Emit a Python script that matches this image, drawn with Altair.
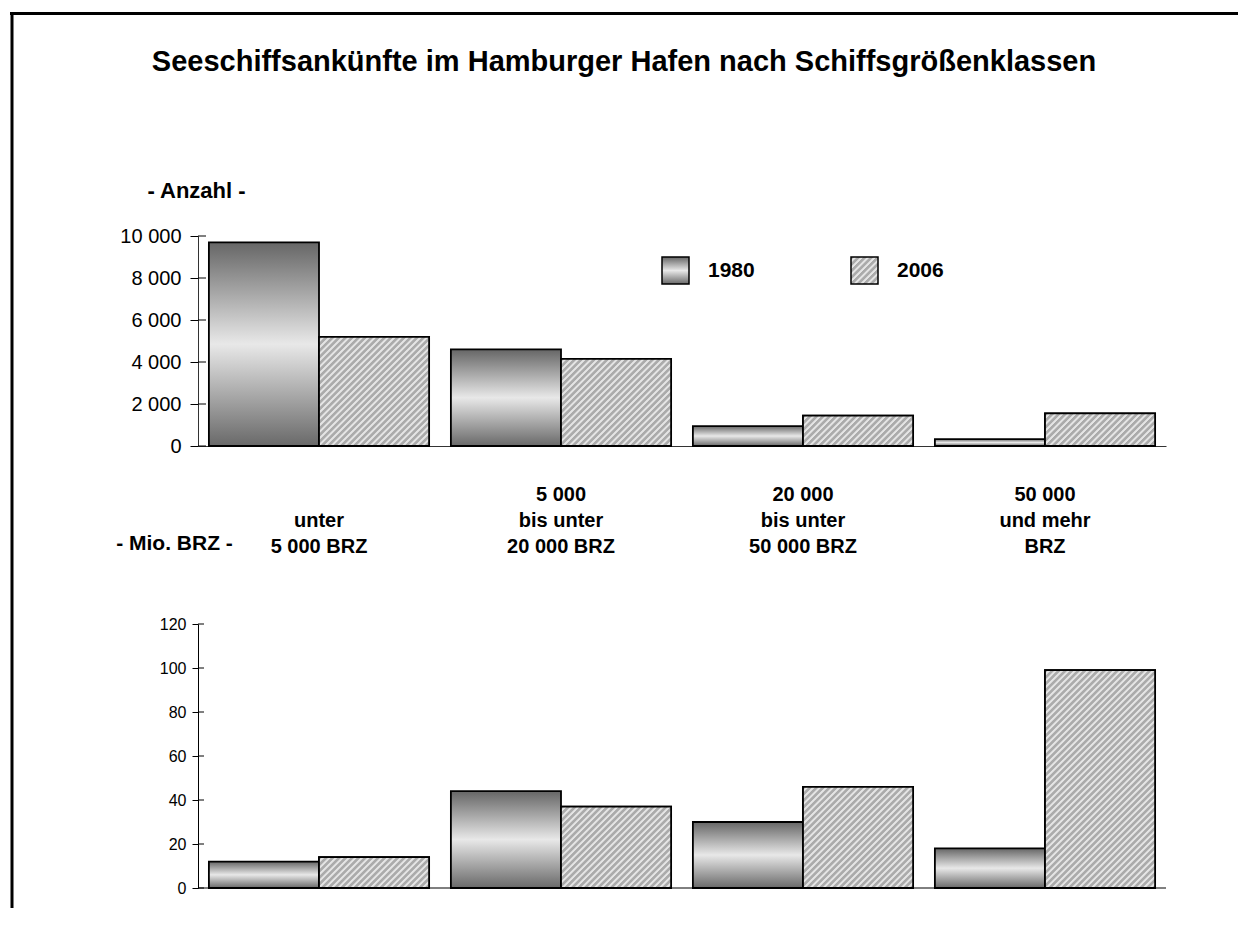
import altair as alt
import pandas as pd

# ---- data ----
categories = [
    "unter\n5 000 BRZ",
    "5 000\nbis unter\n20 000 BRZ",
    "20 000\nbis unter\n50 000 BRZ",
    "50 000\nund mehr\nBRZ",
]
years = ["1980", "2006"]
anzahl_1980 = [9700, 4600, 950, 330]
anzahl_2006 = [5200, 4150, 1450, 1550]
brz_1980 = [12, 44, 30, 18]
brz_2006 = [14, 37, 46, 99]
anzahl_ticks = [0, 2000, 4000, 6000, 8000, 10000]
brz_ticks = [0, 20, 40, 60, 80, 100, 120]
title_text = "Seeschiffsankünfte im Hamburger Hafen nach Schiffsgrößenklassen"

FONT = "Liberation Sans"
W = 968
H_TOP = 210
H_BOT = 264
PAD = 0.09
BAR_W = W / 4 * (1 - PAD) / 2       # pixel width of one bar (for the hatch texture)
HATCH_P = 6.5                        # hatch period in px
DARK, LIGHT = "#ababab", "#e4e4e4"


def long_table(v80, v06):
    rows = []
    for c, a, b in zip(categories, v80, v06):
        rows.append({"kat": c, "jahr": "1980", "wert": a})
        rows.append({"kat": c, "jahr": "2006", "wert": b})
    return pd.DataFrame(rows)


df_top = long_table(anzahl_1980, anzahl_2006)
df_bot = long_table(brz_1980, brz_2006)


def hatch_stops(w, h):
    """Stops of a diagonal ('/') stripe texture for a box of w x h pixels."""
    total = w + h
    stops = []
    k = 0
    while k * HATCH_P <= total:
        for f, col in ((0.0, DARK), (0.4, DARK), (0.58, LIGHT), (0.85, LIGHT)):
            off = (k + f) * HATCH_P / total
            if off <= 1:
                stops.append((round(off, 5), col))
        k += 1
    s = total / (w * w + h * h)
    return stops, s * w, s * h


def hatch_gradient(w, h):
    stops, x2, y2 = hatch_stops(w, h)
    return alt.LinearGradient(
        gradient="linear", x1=0, y1=0, x2=x2, y2=y2,
        stops=[alt.GradientStop(color=c, offset=o) for o, c in stops],
    )


def hatch_expr(w, h):
    stops, x2, y2 = hatch_stops(w, h)
    st = ",".join("{offset:%s,color:'%s'}" % (o, c) for o, c in stops)
    return "{gradient:'linear',x1:0,y1:0,x2:%s,y2:%s,stops:[%s]}" % (x2, y2, st)


grad80_expr = (
    "{gradient:'linear',x1:0,y1:0,x2:0,y2:1,stops:[{offset:0,color:'#666666'},"
    "{offset:0.5,color:'#e8e8e8'},{offset:1,color:'#696969'}]}"
)
fill_scale = alt.Scale(
    domain=years, range=[{"expr": grad80_expr}, {"expr": hatch_expr(27, 27)}]
)
xoff = alt.XOffset("jahr:N", sort=years, scale=alt.Scale(paddingInner=0, paddingOuter=0))
xscale = alt.Scale(paddingInner=PAD, paddingOuter=PAD / 2)


def panel(df, domain, ticks, height, yaxis, xaxis, legend, tick_len):
    base = alt.Chart(df).encode(
        x=alt.X("kat:N", sort=categories, scale=xscale, axis=xaxis),
        xOffset=xoff,
        y=alt.Y("wert:Q", scale=alt.Scale(domain=domain), axis=yaxis),
    )
    layers = [
        base.mark_bar(stroke="black", strokeWidth=1.8).encode(
            fill=alt.Fill("jahr:N", scale=fill_scale, legend=legend)
        )
    ]
    # hatch texture of each 2006 bar, sized to that bar
    vals = df[df.jahr == "2006"].set_index("kat")["wert"]
    for c in categories:
        h = max(vals[c] / domain[1] * height, 1.0)
        layers.append(
            base.transform_filter((alt.datum.kat == c) & (alt.datum.jahr == "2006"))
            .mark_bar(fill=hatch_gradient(BAR_W, h), stroke="black", strokeWidth=1.8)
        )
    tick_df = pd.DataFrame({"t": ticks})
    layers.append(
        alt.Chart(tick_df).mark_rule(color="black", strokeWidth=1).encode(
            y=alt.Y("t:Q"), x=alt.value(0), x2=alt.value(tick_len)
        )
    )
    return layers


top_yaxis = alt.Axis(
    values=anzahl_ticks,
    labelExpr="replace(format(datum.value, ','), ',', ' ')",
    labelFontSize=20, labelFont=FONT, labelColor="black", labelPadding=9,
    tickSize=8, tickColor="black", domainColor="#333333", grid=False,
    title="- Anzahl -", titleAngle=0, titleX=-2, titleY=-46,
    titleAlign="center", titleBaseline="middle", titleFontSize=22,
    titleFont=FONT, titleFontWeight="bold", titleColor="black",
)
top_xaxis = alt.Axis(labels=False, ticks=False, domain=True, domainColor="#333333", title=None)
legend = alt.Legend(
    title=None, orient="none", legendX=463, legendY=20, direction="horizontal",
    symbolType="square", symbolSize=729, symbolStrokeColor="black",
    symbolStrokeWidth=1.5, symbolOpacity=1, labelFontSize=21, labelFont=FONT,
    labelFontWeight="bold", labelColor="black", labelOffset=18, columnPadding=93,
    padding=0,
)
top_layers = panel(df_top, [0, 10000], anzahl_ticks, H_TOP, top_yaxis, top_xaxis, legend, 8)

one = pd.DataFrame({"t": [title_text]})
frame_top = alt.Chart(one).mark_rule(color="black", strokeWidth=3).encode(
    x=alt.value(-188), x2=alt.value(1040), y=alt.value(-222.5)
)
frame_left = alt.Chart(one).mark_rule(color="black", strokeWidth=3).encode(
    x=alt.value(-186), y=alt.value(-222.5), y2=alt.value(672)
)
title_mark = alt.Chart(one).mark_text(
    font=FONT, fontSize=29, fontWeight="bold", align="center", baseline="middle", color="black"
).encode(text="t:N", x=alt.value(426), y=alt.value(-174))

top = alt.layer(*top_layers, frame_top, frame_left, title_mark).properties(width=W, height=H_TOP)

bot_yaxis = alt.Axis(
    values=brz_ticks, labelFontSize=16, labelFont=FONT, labelColor="black", labelPadding=6,
    tickSize=6, tickColor="black", domainColor="black", grid=False,
    title="- Mio. BRZ -", titleAngle=0, titleX=-24, titleY=-81,
    titleAlign="center", titleBaseline="middle", titleFontSize=21,
    titleFont=FONT, titleFontWeight="bold", titleColor="black",
)
bot_xaxis = alt.Axis(
    orient="top", domain=False, ticks=False, tickSize=0, title=None, labelAngle=0,
    labelExpr=(
        "length(split(datum.label, '\\n')) < 3 ? split(' \\n' + datum.label, '\\n')"
        " : split(datum.label, '\\n')"
    ),
    labelFont=FONT, labelFontSize=20,
    labelFontWeight="bold", labelColor="black", labelLineHeight=26, labelPadding=120,
    labelLimit=400,
)
bot_layers = panel(df_bot, [0, 120], brz_ticks, H_BOT, bot_yaxis, bot_xaxis, None, 6)
baseline = alt.Chart(pd.DataFrame({"z": [0]})).mark_rule(color="black", strokeWidth=1).encode(
    y=alt.Y("z:Q"), x=alt.value(0), x2=alt.value(W)
)
bottom = alt.layer(*bot_layers, baseline).properties(width=W, height=H_BOT)

chart = (
    alt.vconcat(top, bottom, spacing=178, bounds="flush")
    .resolve_scale(fill="independent", y="independent")
    .resolve_legend(fill="independent")
    .properties(padding={"left": 0, "top": 4, "right": 0, "bottom": 0})
    .configure(font=FONT)
    .configure_view(stroke=None)
)

chart.save("out.html", embed_options={"renderer": "svg", "actions": False})
